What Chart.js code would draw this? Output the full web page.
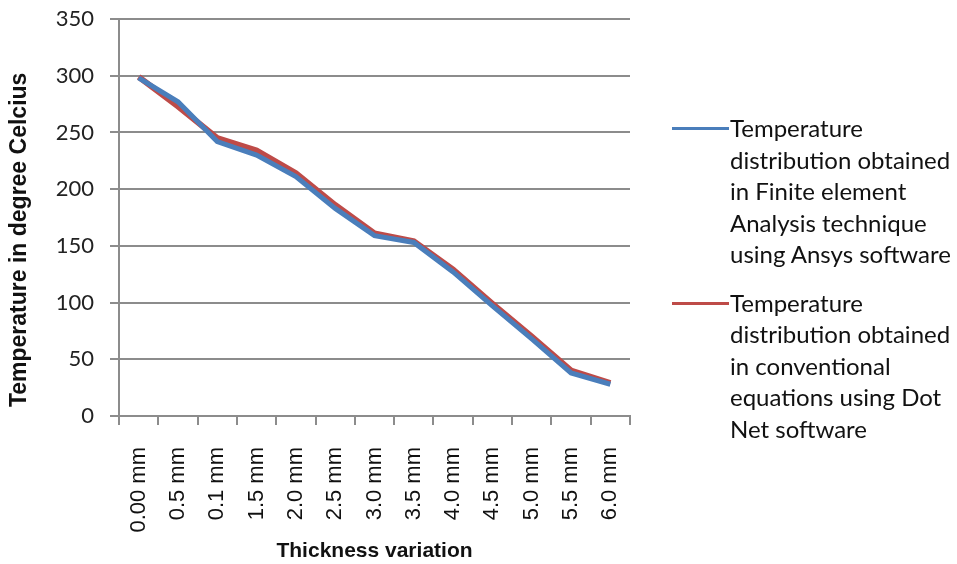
<!DOCTYPE html>
<html>
<head>
<meta charset="utf-8">
<script src="https://cdn.jsdelivr.net/npm/chart.js@4/dist/chart.umd.min.js"></script>
<style>
  html, body { margin: 0; padding: 0; background: #fff; }
  #wrap { position: relative; width: 957px; height: 564px; }
  #legend { position: absolute; left: 672px; top: 112px; font-family: Lato, sans-serif; font-size: 24px; line-height: 31.5px; color: #111; }
  .item { display: flex; align-items: flex-start; margin-bottom: 17px; }
  .swatch { width: 57px; height: 3px; margin-top: 15px; flex: none; }
  .label { margin-left: 1px; white-space: nowrap; }
</style>
</head>
<body>
<div id="wrap">
  <canvas id="chart" width="957" height="564"></canvas>
  <div id="legend"></div>
</div>
<script>
// categories along the x axis (as printed on the original)
const thickness = ['0.00 mm', '0.5 mm', '0.1 mm', '1.5 mm', '2.0 mm', '2.5 mm', '3.0 mm',
                   '3.5 mm', '4.0 mm', '4.5 mm', '5.0 mm', '5.5 mm', '6.0 mm'];

// Finite element analysis (Ansys)
const ansysTemp = [298, 277, 242, 230, 211, 183, 159, 153, 127, 97, 68, 38, 28];
// Conventional equations (Dot Net)
const dotnetTemp = [299, 273, 245, 234, 214, 186, 161, 154, 129, 99, 70, 40, 29];

const seriesNames = [
  ['Temperature', 'distribution obtained', 'in Finite element', 'Analysis technique', 'using Ansys software'],
  ['Temperature', 'distribution obtained', 'in conventional', 'equations using Dot', 'Net software']
];
const seriesColors = ['#4A7EBB', '#BE4B48'];

const yTicks = { min: 0, max: 350, step: 50 };

// legend is plain html next to the canvas
const legendEl = document.getElementById('legend');
seriesNames.forEach((lines, i) => {
  const item = document.createElement('div');
  item.className = 'item';
  item.innerHTML = '<div class="swatch" style="background:' + seriesColors[i] + '"></div>' +
    '<div class="label">' + lines.join('<br>') + '</div>';
  legendEl.appendChild(item);
});

const gridGray = '#8c8c8c';

new Chart(document.getElementById('chart'), {
  type: 'line',
  data: {
    labels: thickness,
    datasets: [
      {
        label: seriesNames[0].join(' '),
        data: ansysTemp,
        borderColor: seriesColors[0],
        borderWidth: 5,
        pointRadius: 0,
        tension: 0
      },
      {
        label: seriesNames[1].join(' '),
        data: dotnetTemp,
        borderColor: seriesColors[1],
        borderWidth: 6,
        pointRadius: 0,
        tension: 0
      }
    ]
  },
  options: {
    responsive: false,
    animation: false,
    layout: { padding: { top: 19, right: 327, left: 6, bottom: 0 } },
    plugins: {
      legend: { display: false },
      tooltip: { enabled: false }
    },
    scales: {
      x: {
        offset: true,
        border: { color: gridGray, width: 2 },
        grid: { drawOnChartArea: false, color: gridGray, lineWidth: 2, tickLength: 9, offset: true },
        ticks: {
          minRotation: 90,
          maxRotation: 90,
          padding: 22,
          color: '#111',
          font: { family: 'Liberation Sans', size: 22 }
        },
        title: {
          display: true,
          text: 'Thickness variation',
          color: '#111',
          padding: { top: 4, bottom: 0 },
          font: { family: 'Liberation Sans', size: 21, weight: 'bold' }
        },
        afterFit: (scale) => {
          scale.height = 148;
          scale.paddingLeft = 0;
          scale.paddingRight = 0;
        }
      },
      y: {
        min: yTicks.min,
        max: yTicks.max,
        border: { color: gridGray, width: 2 },
        grid: { color: gridGray, lineWidth: 2, tickLength: 9 },
        ticks: {
          stepSize: yTicks.step,
          padding: 16,
          color: '#222',
          font: { family: 'Lato', size: 22 }
        },
        title: {
          display: true,
          // trailing spaces nudge the centred title a little toward the bottom, as in the original
          text: 'Temperature in degree Celcius       ',
          color: '#111',
          padding: { top: 0, bottom: 4 },
          font: { family: 'Liberation Sans', size: 23, weight: 'bold' }
        },
        afterFit: (scale) => {
          scale.width = 113;
          // let the plot reach the top padding; the 350 label may overhang
          scale.paddingTop = 0;
          scale.paddingBottom = 0;
        }
      }
    }
  }
});
</script>
</body>
</html>
